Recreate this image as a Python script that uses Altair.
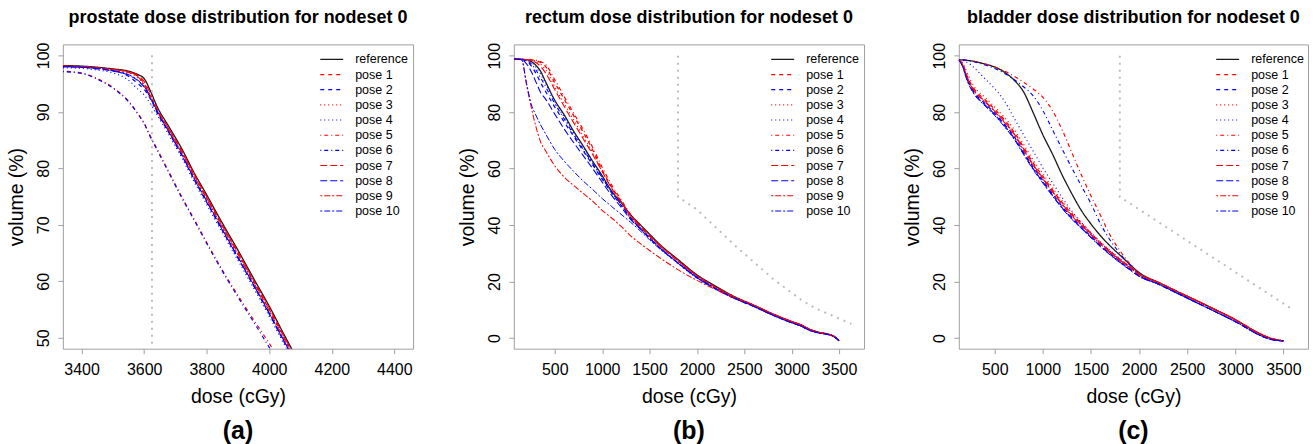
import altair as alt
import pandas as pd

FONT = "Liberation Sans"

SERIES = ["reference"] + [f"pose {i}" for i in range(1, 11)]
COLORS = ["#1a1a1a"] + ["#ff0000", "#0000ff"] * 5
DASHES = [[1, 0], [4, 4], [4, 4], [1, 3], [1, 3], [1, 3, 4, 3], [1, 3, 4, 3],
          [7, 3], [7, 3], [2, 2, 6, 2], [2, 2, 6, 2]]
WIDTHS = [1.3] + [1.0] * 10

# ---------------- (a) prostate ----------------
prostate_dose = [3340, 3400, 3450, 3500, 3550, 3580, 3600, 3620, 3640, 3680,
                 3720, 3760, 3800, 3850, 3900, 3950, 4000, 4050, 4100]
prostate_reference = [98.2, 98.1, 97.9, 97.6, 97.2, 96.6, 95.9, 93.7, 91.1, 87.3, 83.5, 79.2, 75.3, 70.3, 65.5, 60.5, 55.6, 50.3, 45.2]
prostate_pose1 = [98.1, 98.0, 97.8, 97.5, 97.0, 96.3, 95.0, 92.8, 90.5, 86.8, 83.0, 78.8, 74.8, 69.8, 65.0, 60.0, 55.0, 49.8, 44.6]
prostate_pose2 = [98.0, 97.9, 97.7, 97.3, 96.3, 95.0, 94.0, 92.3, 90.0, 86.2, 82.3, 78.0, 74.0, 69.0, 64.1, 59.2, 54.2, 49.0, 44.0]
prostate_pose3 = [98.1, 98.0, 97.8, 97.4, 96.9, 96.0, 94.6, 92.5, 90.2, 86.5, 82.7, 78.5, 74.5, 69.5, 64.6, 59.6, 54.6, 49.4, 44.2]
prostate_pose4 = [97.8, 97.7, 97.4, 96.9, 95.6, 94.0, 93.0, 91.4, 89.6, 85.8, 81.9, 77.6, 73.6, 68.6, 63.7, 58.8, 53.8, 48.6, 43.5]
prostate_pose5 = [97.2, 96.9, 95.9, 94.3, 91.9, 89.7, 88.0, 85.7, 83.6, 79.3, 75.0, 71.0, 66.9, 62.0, 57.5, 53.2, 49.0, 44.6, 40.5]
prostate_pose6 = [97.1, 96.8, 95.8, 94.2, 91.8, 89.6, 87.9, 85.5, 83.4, 79.1, 74.8, 70.8, 66.7, 61.8, 57.2, 52.8, 48.3, 43.8, 39.5]
prostate_pose7 = [98.1, 98.0, 97.8, 97.5, 97.1, 96.4, 95.4, 93.2, 90.7, 86.9, 83.2, 79.0, 75.0, 70.0, 65.2, 60.2, 55.3, 50.0, 44.9]
prostate_pose8 = [98.0, 97.9, 97.6, 97.2, 96.5, 95.5, 94.4, 92.5, 90.2, 86.4, 82.5, 78.2, 74.2, 69.2, 64.3, 59.4, 54.4, 49.2, 44.2]
prostate_pose9 = [98.1, 98.0, 97.8, 97.5, 97.0, 96.2, 94.8, 92.7, 90.4, 86.6, 82.8, 78.6, 74.6, 69.6, 64.8, 59.8, 54.8, 49.6, 44.4]
prostate_pose10 = [98.0, 97.9, 97.7, 97.3, 96.6, 95.6, 94.5, 92.6, 90.3, 86.3, 82.4, 78.1, 74.1, 69.1, 64.2, 59.3, 54.3, 49.1, 44.0]
prostate_limit_dose = [3625, 3625]
prostate_limit_vol = [100, 40]

# ---------------- (b) rectum ----------------
rectum_dose = [70, 150, 200, 250, 300, 350, 400, 500, 600, 700, 800, 900, 1000,
               1100, 1200, 1300, 1400, 1500, 1600, 1800, 2000, 2200, 2400]
rectum_tail_dose = [2600, 2800, 3000, 3100, 3200, 3300, 3400, 3450, 3500]
rectum_tail_upper = [11.6, 8.5, 5.8, 4.6, 2.9, 1.9, 1.2, 0.5, -1.0]
rectum_tail_lower = [11.2, 8.1, 5.4, 4.2, 2.6, 1.7, 1.1, 0.4, -1.0]
rectum_reference = [98.8, 98.7, 98.6, 98.0, 96.6, 94.5, 91.0, 84.2, 79.0, 73.2, 68.0, 62.6, 57.5, 52.0, 48.0, 43.7, 40.2, 36.8, 33.4, 27.8, 22.4, 18.3, 14.6]
rectum_pose1 = [98.8, 98.7, 98.6, 98.5, 98.3, 97.6, 96.3, 90.4, 84.6, 78.7, 72.9, 66.6, 59.5, 53.5, 48.5, 43.3, 39.6, 36.2, 33.0, 27.4, 22.0, 17.9, 14.4]
rectum_pose2 = [98.8, 98.6, 98.0, 96.5, 93.8, 90.5, 87.5, 81.8, 76.5, 71.4, 66.3, 61.3, 56.3, 51.4, 47.0, 42.5, 38.9, 35.4, 32.2, 26.6, 21.4, 17.4, 14.0]
rectum_pose3 = [98.8, 98.7, 98.6, 98.4, 98.1, 97.0, 95.2, 89.0, 83.0, 77.2, 71.5, 65.6, 59.0, 53.2, 48.3, 43.0, 39.3, 35.9, 32.8, 27.2, 21.9, 17.8, 14.3]
rectum_pose4 = [98.8, 98.7, 98.5, 97.8, 96.0, 93.5, 90.5, 83.8, 78.2, 72.6, 67.2, 62.0, 56.9, 51.6, 47.2, 42.4, 38.8, 35.3, 32.0, 26.4, 21.2, 17.3, 13.9]
rectum_pose5 = [98.8, 98.7, 98.6, 98.5, 98.4, 97.9, 97.0, 91.5, 85.5, 79.6, 73.8, 67.5, 60.5, 54.2, 49.0, 43.8, 39.8, 36.3, 33.1, 27.5, 22.1, 18.0, 14.5]
rectum_pose6 = [98.8, 98.7, 98.4, 97.2, 95.0, 92.2, 89.2, 83.0, 77.6, 72.0, 66.8, 61.8, 56.8, 51.8, 47.3, 42.6, 38.9, 35.5, 32.2, 26.5, 21.3, 17.4, 14.0]
rectum_pose7 = [98.8, 98.7, 98.6, 98.3, 97.6, 96.2, 94.0, 88.0, 82.0, 76.2, 70.6, 65.0, 59.0, 53.0, 48.2, 43.2, 39.5, 36.0, 32.9, 27.3, 22.0, 17.9, 14.4]
rectum_pose8 = [98.8, 98.6, 97.2, 94.5, 90.8, 87.0, 84.8, 79.3, 74.0, 69.2, 64.6, 60.0, 55.2, 50.5, 46.3, 42.0, 38.7, 35.3, 32.2, 26.6, 21.4, 17.4, 14.0]
rectum_pose9 = [98.8, 98.6, 90.0, 82.0, 75.0, 69.5, 66.5, 61.0, 57.0, 54.0, 51.2, 48.5, 45.2, 42.5, 39.5, 36.2, 33.5, 31.0, 28.6, 24.2, 20.4, 17.1, 14.0]
rectum_pose10 = [98.8, 98.6, 90.6, 83.0, 79.0, 75.5, 72.5, 66.8, 62.6, 59.0, 55.6, 52.6, 49.4, 46.6, 43.8, 41.0, 38.0, 34.8, 31.8, 26.6, 21.6, 17.5, 14.1]
rectum_limit_dose = [1800, 1800, 2000, 2400, 2800, 3100, 3250, 3450, 3630]
rectum_limit_vol = [100, 50, 45.5, 32.8, 21.0, 13.5, 10.5, 7.6, 5.0]

# ---------------- (c) bladder ----------------
bladder_dose = [127, 170, 200, 250, 300, 400, 500, 600, 700, 800, 900, 1000,
                1100, 1200, 1300, 1400, 1500, 1600, 1700, 1800, 1900, 2000]
bladder_tail_dose = [2200, 2400, 2600, 2800, 3000, 3100, 3200, 3300, 3400, 3500]
bladder_tail_upper = [19.7, 16.4, 13.2, 9.9, 6.5, 4.5, 2.5, 0.8, -0.4, -1.0]
bladder_tail_lower = [19.1, 15.8, 12.5, 9.2, 5.8, 3.9, 1.9, 0.3, -0.7, -1.0]
bladder_reference = [98.5, 98.5, 98.4, 98.2, 97.9, 97.0, 96.0, 94.2, 91.4, 87.2, 79.8, 72.0, 65.2, 57.8, 51.2, 45.2, 40.4, 36.2, 32.6, 29.4, 26.2, 23.2]
bladder_pose1 = [98.5, 96.8, 94.0, 90.2, 87.6, 84.4, 81.0, 77.3, 73.0, 67.6, 62.0, 57.3, 52.5, 48.0, 44.0, 40.5, 37.0, 33.7, 30.7, 27.9, 25.3, 22.7]
bladder_pose2 = [98.5, 96.3, 93.2, 89.2, 86.5, 83.0, 79.6, 75.8, 71.4, 65.9, 60.5, 55.8, 51.1, 46.6, 42.8, 39.4, 36.0, 32.8, 29.9, 27.1, 24.6, 22.1]
bladder_pose3 = [98.5, 97.3, 95.0, 91.2, 88.4, 85.2, 81.8, 78.2, 74.0, 68.6, 63.0, 58.2, 53.3, 48.6, 44.5, 40.9, 37.3, 34.0, 31.0, 28.2, 25.5, 22.8]
bladder_pose4 = [98.5, 98.3, 97.9, 96.8, 95.3, 91.8, 88.3, 84.0, 78.0, 72.0, 66.2, 60.3, 55.0, 49.8, 45.0, 41.0, 37.4, 33.8, 30.8, 28.0, 25.2, 22.5]
bladder_pose5 = [98.5, 98.5, 98.4, 98.2, 97.9, 97.1, 96.0, 94.6, 92.8, 90.6, 88.2, 85.3, 80.6, 73.8, 65.8, 57.8, 50.4, 43.4, 36.4, 31.0, 26.5, 22.9]
bladder_pose6 = [98.5, 98.5, 98.4, 98.1, 97.7, 96.7, 95.5, 93.8, 91.6, 89.0, 85.8, 80.6, 73.8, 67.0, 60.3, 53.9, 47.6, 40.4, 34.6, 30.0, 26.0, 22.6]
bladder_pose7 = [98.5, 96.6, 93.6, 89.8, 87.1, 83.8, 80.4, 76.7, 72.4, 67.0, 61.4, 56.7, 52.0, 47.5, 43.6, 40.2, 36.7, 33.4, 30.4, 27.6, 25.1, 22.5]
bladder_pose8 = [98.5, 96.0, 92.8, 88.8, 86.0, 82.6, 79.2, 75.3, 70.9, 65.4, 60.0, 55.3, 50.6, 46.2, 42.4, 39.0, 35.7, 32.5, 29.6, 26.9, 24.4, 21.9]
bladder_pose9 = [98.5, 96.5, 93.4, 89.5, 86.9, 83.6, 80.2, 76.4, 72.1, 66.6, 61.1, 56.4, 51.7, 47.2, 43.3, 39.9, 36.5, 33.2, 30.2, 27.5, 25.0, 22.5]
bladder_pose10 = [98.5, 95.8, 92.4, 88.4, 85.7, 82.2, 78.8, 74.9, 70.5, 65.0, 59.6, 54.9, 50.3, 45.9, 42.1, 38.8, 35.5, 32.3, 29.4, 26.7, 24.2, 21.8]
bladder_limit_dose = [1800, 1800, 3600]
bladder_limit_vol = [100, 50, 10]


def curves(dose, series_vals, tail_dose=None, tails=None):
    rows = []
    for i, (name, vals) in enumerate(zip(SERIES, series_vals)):
        ds = list(dose)
        vs = list(vals)
        if tail_dose is not None:
            ds += tail_dose
            vs += tails[i]
        for d, v in zip(ds, vs):
            rows.append({"series": name, "dose": d, "volume": v})
    return pd.DataFrame(rows)


def limit(dose, vol):
    return pd.DataFrame({"dose": dose, "volume": vol, "k": list(range(len(dose)))})


prostate_df = curves(prostate_dose, [prostate_reference, prostate_pose1, prostate_pose2, prostate_pose3,
                                     prostate_pose4, prostate_pose5, prostate_pose6, prostate_pose7,
                                     prostate_pose8, prostate_pose9, prostate_pose10])
up, lo = rectum_tail_upper, rectum_tail_lower
rectum_df = curves(rectum_dose, [rectum_reference, rectum_pose1, rectum_pose2, rectum_pose3,
                                 rectum_pose4, rectum_pose5, rectum_pose6, rectum_pose7,
                                 rectum_pose8, rectum_pose9, rectum_pose10],
                   rectum_tail_dose, [up, up, lo, up, lo, up, lo, up, lo, up, lo])
up, lo = bladder_tail_upper, bladder_tail_lower
bladder_df = curves(bladder_dose, [bladder_reference, bladder_pose1, bladder_pose2, bladder_pose3,
                                   bladder_pose4, bladder_pose5, bladder_pose6, bladder_pose7,
                                   bladder_pose8, bladder_pose9, bladder_pose10],
                    bladder_tail_dose, [up, up, lo, up, lo, up, lo, up, lo, up, lo])

color_enc = alt.Color("series:N", scale=alt.Scale(domain=SERIES, range=COLORS), legend=None)
dash_enc = alt.StrokeDash("series:N", scale=alt.Scale(domain=SERIES, range=DASHES), legend=None)
width_enc = alt.StrokeWidth("series:N", scale=alt.Scale(domain=SERIES, range=WIDTHS), legend=None)

H = 305
TITLE_SIZE = 18


def panel(df, lim, title, xdom, ydom, xticks, yticks, w, tag):
    x = alt.X("dose:Q", scale=alt.Scale(domain=xdom, nice=False, zero=False),
              axis=alt.Axis(values=xticks, format="d", title="dose (cGy)",
                            labelPadding=8, titlePadding=10))
    y = alt.Y("volume:Q", scale=alt.Scale(domain=ydom, nice=False, zero=False),
              axis=alt.Axis(values=yticks, format="d", title="volume (%)", labelAngle=-90,
                            labelAlign="center", labelBaseline="bottom",
                            labelPadding=6, titlePadding=9))
    lines = alt.Chart(df).mark_line(clip=True, interpolate="monotone").encode(
        x=x, y=y, color=color_enc, strokeDash=dash_enc, strokeWidth=width_enc)
    lim_line = alt.Chart(lim).mark_line(clip=True, color="#bebebe", strokeDash=[2, 5],
                                        strokeWidth=2).encode(
        x=x, y=y, order="k:Q")
    leg = alt.Chart(pd.DataFrame({"series": SERIES, "row": list(range(len(SERIES)))})).transform_calculate(
        ly="15 + datum.row * 15.2")
    leg_rule = leg.mark_rule().encode(
        x=alt.value(258), x2=alt.value(281),
        y=alt.Y("ly:Q", scale=None, axis=None),
        color=color_enc, strokeDash=dash_enc, strokeWidth=width_enc)
    leg_text = leg.mark_text(align="left", baseline="middle", fontSize=12.5, font=FONT,
                             color="black").encode(
        x=alt.value(293), y=alt.Y("ly:Q", scale=None, axis=None), text="series:N")
    tag_text = alt.Chart(pd.DataFrame({"tag": [tag]})).mark_text(
        fontSize=25, fontWeight="bold", font=FONT, color="black", baseline="middle").encode(
        text="tag:N", x=alt.value(w / 2), y=alt.value(H + 82))
    return alt.layer(lines, lim_line, leg_rule, leg_text, tag_text).properties(
        width=w, height=H,
        title=alt.TitleParams(title, fontSize=TITLE_SIZE, fontWeight="bold", font=FONT,
                              anchor="middle", frame="group", offset=15, color="black"))


pa = panel(prostate_df, limit(prostate_limit_dose, prostate_limit_vol),
           "prostate dose distribution for nodeset 0", [3340, 4460], [48.06, 101.94],
           [3400, 3600, 3800, 4000, 4200, 4400], [50, 60, 70, 80, 90, 100], 351, "(a)")
pb = panel(rectum_df, limit(rectum_limit_dose, rectum_limit_vol),
           "rectum dose distribution for nodeset 0", [68, 3763], [-3.8, 104.0],
           [500, 1000, 1500, 2000, 2500, 3000, 3500], [0, 20, 40, 60, 80, 100], 351, "(b)")
pc = panel(bladder_df, limit(bladder_limit_dose, bladder_limit_vol),
           "bladder dose distribution for nodeset 0", [127, 3756], [-3.8, 104.0],
           [500, 1000, 1500, 2000, 2500, 3000, 3500], [0, 20, 40, 60, 80, 100], 350, "(c)")

chart = alt.hconcat(pa, alt.hconcat(pb, pc, spacing=37), spacing=43).properties(
    padding={"left": 6, "top": 8, "right": 5, "bottom": 0}
).configure(
    style={"group-title": {"fontSize": TITLE_SIZE, "fontWeight": "bold", "font": FONT}}
).configure_view(stroke="#a0a0a0", strokeWidth=1).configure_axis(
    domain=False, grid=False, tickColor="#a0a0a0", tickSize=5, tickWidth=1,
    labelFont=FONT, labelFontSize=16, labelColor="black",
    titleFont=FONT, titleFontSize=19.5, titleFontWeight="normal", titleColor="black"
).configure_title(
    fontSize=TITLE_SIZE, fontWeight="bold", font=FONT, color="black"
)

chart.save("out.html", embed_options={"renderer": "svg", "actions": False})
